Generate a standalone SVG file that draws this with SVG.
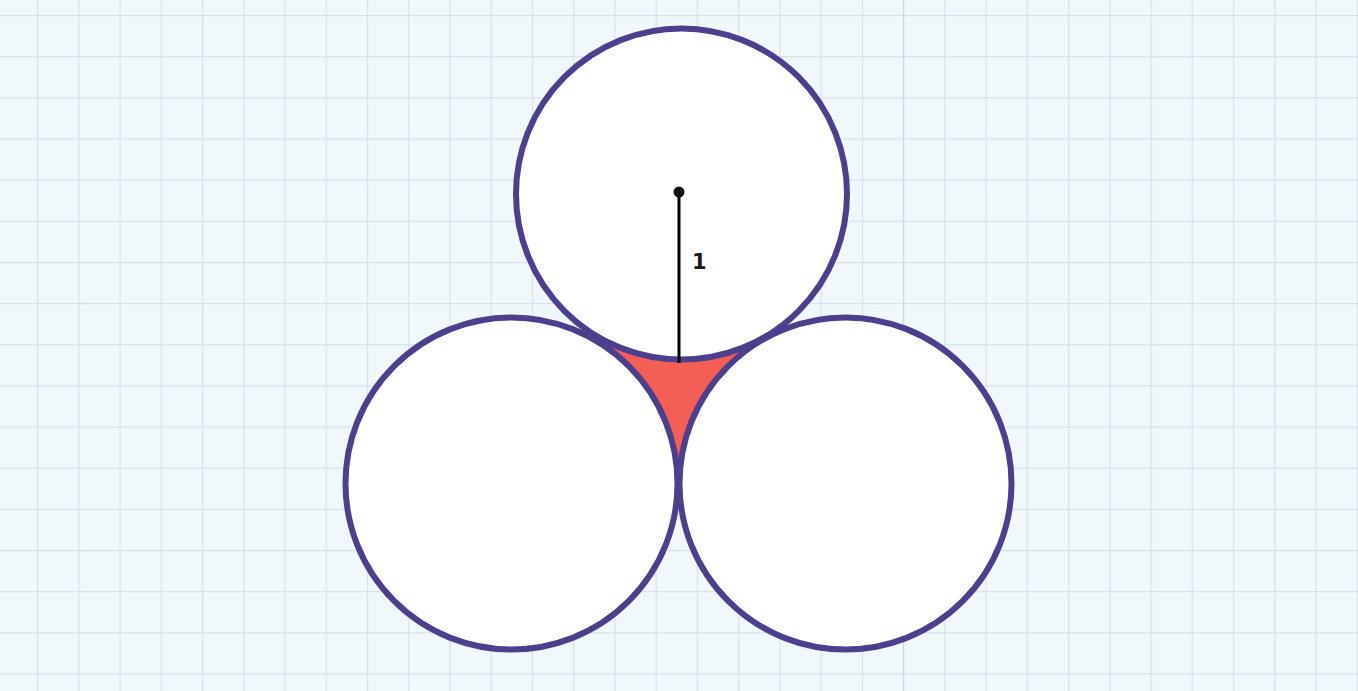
<svg xmlns="http://www.w3.org/2000/svg" width="1358" height="691" viewBox="0 0 1358 691">
  <style>
    .circle { fill: #ffffff; stroke: #4b3f8e; stroke-width: 6; }
    .label { font-family: "DejaVu Sans", "Liberation Sans", sans-serif; font-weight: bold; font-size: 21px; fill: #1a1a1a; }
  </style>
  <defs>
    <pattern id="grid" patternUnits="userSpaceOnUse" x="37" y="15" width="41.24" height="41.15">
      <path d="M0.5 0 V41.15 M0 0.5 H41.24" fill="none" stroke="#d5e1e8" stroke-width="1.3"/>
    </pattern>
  </defs>
  <rect id="background" x="0" y="0" width="1358" height="691" fill="#f1f8fb"/>
  <rect x="0" y="0" width="1358" height="691" fill="url(#grid)"/>
  <line x1="903.5" y1="0" x2="903.5" y2="691" stroke="#cdd9e0" stroke-width="1.3"/>

  <g id="gap-region">
    <polygon points="681.5,194 511.5,483 846,483" fill="#f45f55"/>
  </g>

  <g id="circle-top">
    <circle class="circle" cx="681.5" cy="194" r="165.5"/>
  </g>
  <g id="circle-left">
    <circle class="circle" cx="511.5" cy="483.5" r="166"/>
  </g>
  <g id="circle-right">
    <circle class="circle" cx="845.5" cy="483.5" r="166"/>
  </g>

  <g id="connectors">
    <line x1="679" y1="192" x2="679" y2="363" stroke="#000000" stroke-width="3"/>
  </g>
  <g id="center-point">
    <circle cx="679" cy="192" r="5.5" fill="#111111"/>
  </g>
  <g id="radius-label">
    <text class="label" x="692" y="269">1</text>
  </g>
</svg>
